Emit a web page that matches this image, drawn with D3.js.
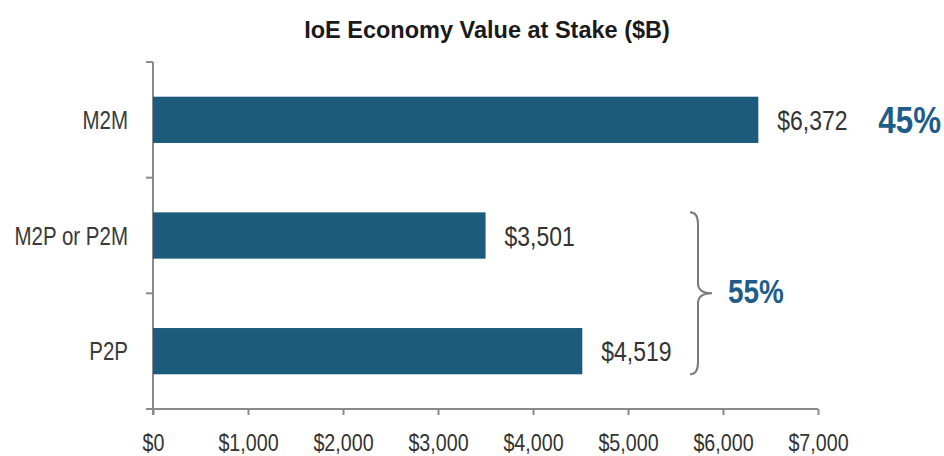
<!DOCTYPE html>
<html>
<head>
<meta charset="utf-8">
<script src="https://cdn.jsdelivr.net/npm/d3@7"></script>
<style>
  body { margin: 0; background: #fff; }
  svg text { font-family: "Liberation Sans", Arial, sans-serif; }
  .axis path, .axis line { stroke: #8a8a8a; stroke-width: 2; }
  .axis text { fill: #333; }
</style>
</head>
<body>
<div id="chart"></div>
<script>
// data
const categories = ["M2M", "M2P or P2M", "P2P"];
const values = [6372, 3501, 4519];
const xTicks = [0, 1000, 2000, 3000, 4000, 5000, 6000, 7000];
const shareLabels = ["45%", "55%"];
const title = "IoE Economy Value at Stake ($B)";

const fullW = 944, fullH = 456;
const margin = { top: 62, right: 126, bottom: 47, left: 153 };
const W = fullW - margin.left - margin.right;
const H = fullH - margin.top - margin.bottom;

const barColour = "#1c5b7b";
const shareColour = "#1f5d89";
const NARROW = 0.82;   // the original uses a condensed face

const svg = d3.select("#chart").append("svg")
  .attr("width", fullW)
  .attr("height", fullH);

svg.append("text")
  .attr("x", 487)
  .attr("y", 38)
  .attr("text-anchor", "middle")
  .style("font-weight", "700")
  .style("font-size", "23.5px")
  .style("fill", "#1a1a1a")
  .text(title);

const g = svg.append("g").attr("transform", `translate(${margin.left},${margin.top})`);

const x = d3.scaleLinear().domain([0, 7000]).range([0, W]);
const y = d3.scaleBand().domain(categories).range([0, H]);
const barH = y.bandwidth() * 0.4;
const mid = c => y(c) + y.bandwidth() / 2;

// place a text squeezed sideways round its anchor
function squeeze(sel, fx, fy, sx) {
  sel.attr("x", 0).attr("y", 0)
    .attr("transform", (d, i) => `translate(${fx(d, i)},${fy(d, i)}) scale(${sx},1)`);
}

// x axis
const xAxisG = g.append("g")
  .attr("class", "axis")
  .attr("transform", `translate(0,${H})`)
  .call(d3.axisBottom(x)
    .tickValues(xTicks)
    .tickSize(6)
    .tickSizeOuter(0)
    .tickPadding(19)
    .tickFormat(d => "$" + d3.format(",")(d)));
xAxisG.selectAll("text")
  .style("font-size", "24px")
  .attr("transform", `scale(${NARROW},1)`);
xAxisG.select(".domain").attr("d", `M-7,0H${W}`);

// y axis: line with ticks at category boundaries
const yAxisG = g.append("g").attr("class", "axis");
yAxisG.append("line")
  .attr("x1", 0).attr("x2", 0)
  .attr("y1", 0).attr("y2", H + 6);
const bounds = categories.map(c => y(c)).concat([H]);
yAxisG.selectAll(".ytick")
  .data(bounds)
  .join("line")
  .attr("class", "ytick")
  .attr("x1", -7).attr("x2", 0)
  .attr("y1", d => d).attr("y2", d => d);

g.selectAll(".cat-label")
  .data(categories)
  .join("text")
  .attr("class", "cat-label")
  .attr("dy", "0.36em")
  .attr("text-anchor", "end")
  .style("font-size", "25px")
  .style("fill", "#3a3a3a")
  .text(d => d)
  .call(squeeze, () => -25, d => mid(d), NARROW);

const rows = categories.map((c, i) => ({ cat: c, value: values[i] }));

g.selectAll(".bar")
  .data(rows)
  .join("rect")
  .attr("class", "bar")
  .attr("x", 0)
  .attr("y", d => y(d.cat) + (y.bandwidth() - barH) / 2)
  .attr("width", d => x(d.value))
  .attr("height", barH)
  .attr("fill", barColour);

// value labels
g.selectAll(".val-label")
  .data(rows)
  .join("text")
  .attr("class", "val-label")
  .attr("dy", "0.36em")
  .style("font-size", "28px")
  .style("fill", "#333")
  .text(d => "$" + d3.format(",")(d.value))
  .call(squeeze, d => x(d.value) + 19, d => mid(d.cat), NARROW);

// share of M2M
g.append("text")
  .datum(rows[0])
  .attr("dy", "0.36em")
  .style("font-size", "36px")
  .style("font-weight", "700")
  .style("fill", shareColour)
  .text(shareLabels[0])
  .call(squeeze, d => x(d.value) + 120, d => mid(d.cat), 0.87);

// brace round the two person-related rows
const bTop = y(categories[1]) + (y.bandwidth() - barH) / 2;
const bBot = y(categories[2]) + (y.bandwidth() + barH) / 2;
const bMid = (bTop + bBot) / 2;
const bx = 545, bw = 10, tip = 14;
const brace = d3.path();
brace.moveTo(bx - bw + 2, bTop);
brace.quadraticCurveTo(bx, bTop, bx, bTop + 12);
brace.lineTo(bx, bMid - 10);
brace.quadraticCurveTo(bx, bMid, bx + tip, bMid);
brace.quadraticCurveTo(bx, bMid, bx, bMid + 10);
brace.lineTo(bx, bBot - 12);
brace.quadraticCurveTo(bx, bBot, bx - bw + 2, bBot);
g.append("path")
  .attr("d", brace.toString())
  .attr("fill", "none")
  .attr("stroke", "#7a7a7a")
  .attr("stroke-width", 2);

g.append("text")
  .attr("dy", "0.36em")
  .style("font-size", "34px")
  .style("font-weight", "700")
  .style("fill", shareColour)
  .text(shareLabels[1])
  .call(squeeze, () => bx + tip + 16, () => bMid - 3, NARROW);
</script>
</body>
</html>
